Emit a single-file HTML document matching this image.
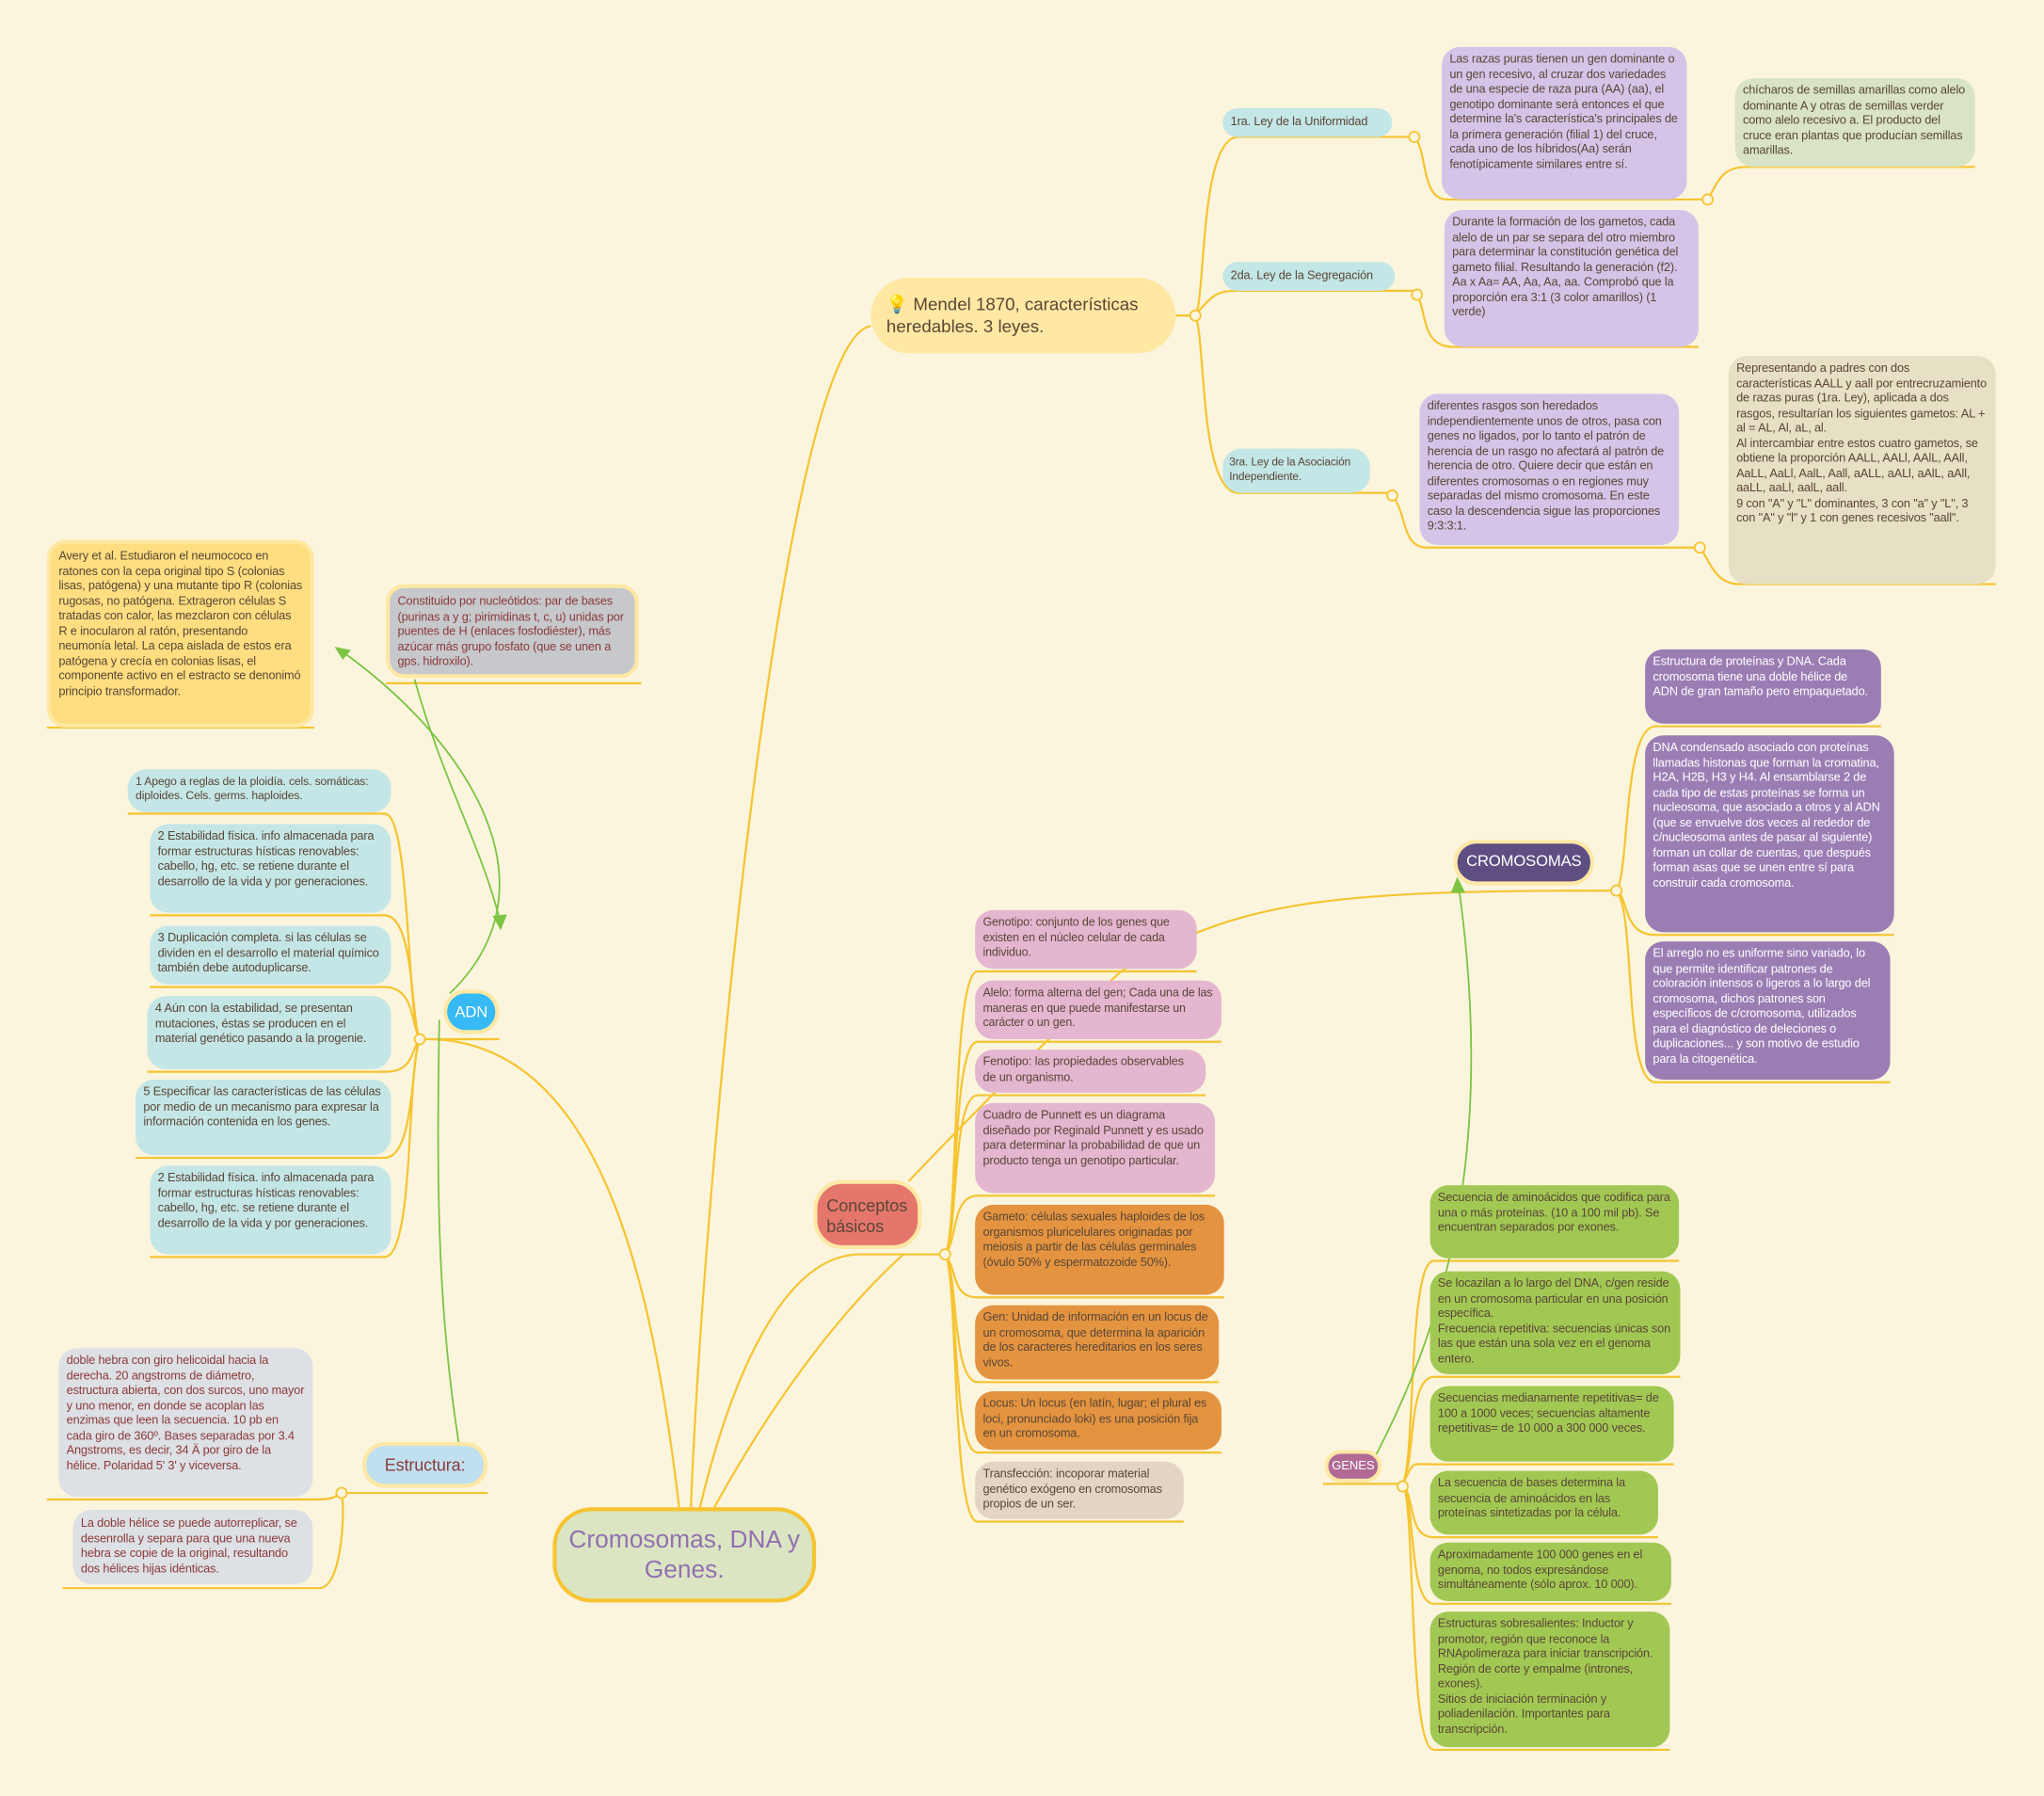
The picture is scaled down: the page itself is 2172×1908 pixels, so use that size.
<!DOCTYPE html>
<html><head><meta charset="utf-8"><style>
html,body{margin:0;padding:0;background:#fcf5de;}
body{width:2172px;height:1908px;overflow:hidden;}
#w{position:absolute;left:0;top:0;width:1568px;height:1377px;transform:scale(1.38520);transform-origin:0 0;}
.b{position:absolute;box-sizing:border-box;border-radius:14px;padding:4px 6px;font-family:"Liberation Sans",sans-serif;font-size:9.2px;line-height:11.5px;letter-spacing:-0.1px;color:#5a4636;overflow:hidden;}
svg{position:absolute;left:0;top:0;}
</style></head><body><div id="w">
<svg width="1568" height="1377" viewBox="0 0 1568 1377" fill="none" stroke="#f5c431" stroke-width="1.6">
<path d="M521 1156 C500 980 460 800 330 797"/>
<path d="M530 1156 C540 900 600 260 668 250"/>
<path d="M537 1156 C560 1060 600 962 660 962 L725 962"/>
<path d="M548 1156 C590 1080 640 1010 693 962"/>
<path d="M697 906 C760 840 800 800 860 745 C950 690 1020 683 1240 683"/>
<path d="M902 242 L917 242"/>
<path d="M917 242 C925 230 920 105 950 105 L1085 105"/>
<path d="M917 242 C930 225 935 223 950 223 L1087 223"/>
<path d="M917 242 C925 260 920 378 950 378 L1068 378"/>
<path d="M1085 105 C1095 115 1090 153 1110 153 L1310 153"/>
<path d="M1310 153 C1318 140 1320 128 1340 128 L1515 128"/>
<path d="M1087 226 C1095 240 1090 266 1115 266 L1303 266"/>
<path d="M1068 380 C1080 395 1075 420 1095 420 L1304 420"/>
<path d="M1304 420 C1312 430 1315 448 1335 448 L1531 448"/>
<path d="M1240 683 C1250 670 1245 557 1270 557 L1443 557"/>
<path d="M1240 683 C1250 690 1245 717 1270 717 L1453 717"/>
<path d="M1240 683 C1255 700 1245 830 1270 830 L1450 830"/>
<path d="M322 797 L383 797"/>
<path d="M322 797 C312 780 315 624 295 624 L98 624"/>
<path d="M322 797 C315 780 318 702 295 702 L115 702"/>
<path d="M322 797 C315 785 318 757 295 757 L115 757"/>
<path d="M322 797 C315 805 318 822 295 822 L113 822"/>
<path d="M322 797 C315 815 318 888 295 888 L104 888"/>
<path d="M322 797 C312 820 318 964 295 964 L115 964"/>
<path d="M725 962 C735 950 730 745 750 745 L918 745"/>
<path d="M725 962 C735 950 730 799 750 799 L937 799"/>
<path d="M725 962 C735 950 730 840 750 840 L925 840"/>
<path d="M725 962 C735 950 730 917 750 917 L932 917"/>
<path d="M725 962 C735 975 730 995 750 995 L939 995"/>
<path d="M725 962 C735 975 730 1060 750 1060 L935 1060"/>
<path d="M725 962 C735 975 730 1114 750 1114 L937 1114"/>
<path d="M725 962 C735 975 730 1167 750 1167 L908 1167"/>
<path d="M1015 1138 L1076 1138"/>
<path d="M1076 1138 C1086 1120 1080 967 1100 967 L1288 967"/>
<path d="M1076 1138 C1086 1120 1080 1056 1100 1056 L1289 1056"/>
<path d="M1076 1138 C1086 1120 1080 1123 1100 1123 L1284 1123"/>
<path d="M1076 1138 C1086 1150 1080 1179 1100 1179 L1272 1179"/>
<path d="M1076 1138 C1086 1150 1080 1230 1100 1230 L1282 1230"/>
<path d="M1076 1138 C1086 1150 1080 1342 1100 1342 L1281 1342"/>
<path d="M262 1145 L374 1145"/>
<path d="M262 1145 C255 1150 250 1150 240 1150 L36 1150"/>
<path d="M262 1145 C265 1160 262 1218 245 1218 L48 1218"/>
<path d="M36 558 L241 558"/><path d="M296 524 L492 524"/>
<g fill="#fcf5de" stroke-width="1.3">
<circle cx="917" cy="242" r="4"/><circle cx="1085" cy="105" r="4"/><circle cx="1087" cy="226" r="4"/><circle cx="1068" cy="380" r="4"/>
<circle cx="1310" cy="153" r="4"/><circle cx="1304" cy="420" r="4"/><circle cx="1240" cy="683" r="4"/><circle cx="322" cy="797" r="4"/>
<circle cx="725" cy="962" r="4"/><circle cx="1076" cy="1140" r="4"/><circle cx="262" cy="1145" r="4"/>
</g>
</svg>
<svg width="1568" height="1377" viewBox="0 0 1568 1377" fill="none" stroke="#7cc443" stroke-width="1.3">
<path d="M318 521 C340 600 370 650 384 708"/>
<path d="M379 703 L384 712 L388 702 Z" fill="#7cc443"/>
<path d="M345 762 C430 680 360 570 263 500"/>
<path d="M258 497 L268 499 L263 505 Z" fill="#7cc443"/>
<path d="M352 1107 C335 1000 335 900 337 782"/>
<path d="M1055 1117 C1100 1030 1150 900 1119 680"/>
<path d="M1114 684 L1118 674 L1123 684 Z" fill="#7cc443"/>
</svg>

<div class="b" style="left:668px;top:213px;width:234px;height:58px;background:#fee8a3;border-radius:29px;font-size:13.5px;line-height:17px;padding:12px 12px;letter-spacing:0">💡 Mendel 1870, características heredables. 3 leyes.</div>
<div class="b" style="left:938px;top:83px;width:130px;height:22px;background:#c3e6e6;border-radius:11px;padding:5px 6px">1ra. Ley de la Uniformidad</div>
<div class="b" style="left:938px;top:201px;width:132px;height:22px;background:#c3e6e6;border-radius:11px;padding:5px 6px">2da. Ley de la Segregación</div>
<div class="b" style="left:938px;top:344px;width:113px;height:34px;background:#c3e6e6;border-radius:14px;padding:5px 5px;font-size:8.6px;line-height:11px">3ra. Ley de la Asociación Independiente.</div>
<div class="b" style="left:1106px;top:36px;width:188px;height:117px;background:#d4c4e8">Las razas puras tienen un gen dominante o un gen recesivo, al cruzar dos variedades de una especie de raza pura (AA) (aa), el genotipo dominante será entonces el que determine la's característica's principales de la primera generación (filial 1) del cruce, cada uno de los híbridos(Aa) serán fenotípicamente similares entre sí.</div>
<div class="b" style="left:1331px;top:60px;width:184px;height:68px;background:#d9e4c6">chícharos de semillas amarillas como alelo dominante A y otras de semillas verder como alelo recesivo a. El producto del cruce eran plantas que producían semillas amarillas.</div>
<div class="b" style="left:1108px;top:161px;width:195px;height:105px;background:#d4c4e8">Durante la formación de los gametos, cada alelo de un par se separa del otro miembro para determinar la constitución genética del gameto filial. Resultando la generación (f2). Aa x Aa= AA, Aa, Aa, aa. Comprobó que la proporción era 3:1 (3 color amarillos) (1 verde)</div>
<div class="b" style="left:1089px;top:302px;width:199px;height:116px;background:#d4c4e8">diferentes rasgos son heredados independientemente unos de otros, pasa con genes no ligados, por lo tanto el patrón de herencia de un rasgo no afectará al patrón de herencia de otro. Quiere decir que están en diferentes cromosomas o en regiones muy separadas del mismo cromosoma. En este caso la descendencia sigue las proporciones 9:3:3:1.</div>
<div class="b" style="left:1326px;top:273px;width:205px;height:175px;background:#e6e0c4">Representando a padres con dos características AALL y aall por entrecruzamiento de razas puras (1ra. Ley), aplicada a dos rasgos, resultarían los siguientes gametos: AL + al = AL, Al, aL, al.<br>Al intercambiar entre estos cuatro gametos, se obtiene la proporción AALL, AALl, AAlL, AAll, AaLL, AaLl, AalL, Aall, aALL, aALl, aAlL, aAll, aaLL, aaLl, aalL, aall.<br>9 con "A" y "L" dominantes, 3 con "a" y "L", 3 con "A" y "l" y 1 con genes recesivos "aall".</div>

<div class="b" style="left:1115px;top:644px;width:108px;height:35px;background:#5e4e82;border:3px solid #fde8a6;border-radius:18px;color:#fff;font-size:12px;line-height:27px;text-align:center;padding:0">CROMOSOMAS</div>
<div class="b" style="left:1262px;top:498px;width:181px;height:57px;background:#9b7db4;color:#fff">Estructura de proteínas y DNA. Cada cromosoma tiene una doble hélice de ADN de gran tamaño pero empaquetado.</div>
<div class="b" style="left:1262px;top:564px;width:191px;height:151px;background:#9b7db4;color:#fff">DNA condensado asociado con proteínas llamadas histonas que forman la cromatina, H2A, H2B, H3 y H4. Al ensamblarse 2 de cada tipo de estas proteínas se forma un nucleosoma, que asociado a otros y al ADN (que se envuelve dos veces al rededor de c/nucleosoma antes de pasar al siguiente) forman un collar de cuentas, que después forman asas que se unen entre sí para construir cada cromosoma.</div>
<div class="b" style="left:1262px;top:722px;width:188px;height:106px;background:#9b7db4;color:#fff">El arreglo no es uniforme sino variado, lo que permite identificar patrones de coloración intensos o ligeros a lo largo del cromosoma, dichos patrones son específicos de c/cromosoma, utilizados para el diagnóstico de deleciones o duplicaciones... y son motivo de estudio para la citogenética.</div>

<div class="b" style="left:36px;top:414px;width:205px;height:144px;background:#fede80;border:3px solid #fee8a3">Avery et al. Estudiaron el neumococo en ratones con la cepa original tipo S (colonias lisas, patógena) y una mutante tipo R (colonias rugosas, no patógena. Extrageron células S tratadas con calor, las mezclaron con células R e inocularon al ratón, presentando neumonía letal. La cepa aislada de estos era patógena y crecía en colonias lisas, el componente activo en el estracto se denonimó principio transformador.</div>
<div class="b" style="left:296px;top:448px;width:194px;height:72px;background:#c6c8cc;border:3px solid #fee8a3;color:#8b3a3a;padding:5px 6px">Constituido por nucleótidos: par de bases (purinas a y g; pirimidinas t, c, u) unidas por puentes de H (enlaces fosfodiéster), más azúcar más grupo fosfato (que se unen a gps. hidroxilo).</div>
<div class="b" style="left:340px;top:759px;width:43px;height:34px;background:#36b9f5;border:3px solid #fde8a6;border-radius:17px;color:#fff;font-size:12px;line-height:28px;text-align:center;padding:0">ADN</div>
<div class="b" style="left:98px;top:590px;width:202px;height:33px;background:#c4e6e6;font-size:8.8px;line-height:11px">1 Apego a reglas de la ploidía. cels. somáticas: diploides. Cels. germs. haploides.</div>
<div class="b" style="left:115px;top:632px;width:185px;height:68px;background:#c4e6e6">2 Estabilidad física. info almacenada para formar estructuras hísticas renovables: cabello, hg, etc. se retiene durante el desarrollo de la vida y por generaciones.</div>
<div class="b" style="left:115px;top:710px;width:185px;height:45px;background:#c4e6e6">3 Duplicación completa. si las células se dividen en el desarrollo el material químico también debe autoduplicarse.</div>
<div class="b" style="left:113px;top:764px;width:187px;height:56px;background:#c4e6e6">4 Aún con la estabilidad, se presentan mutaciones, éstas se producen en el material genético pasando a la progenie.</div>
<div class="b" style="left:104px;top:828px;width:196px;height:58px;background:#c4e6e6">5 Especificar las características de las células por medio de un mecanismo para expresar la información contenida en los genes.</div>
<div class="b" style="left:115px;top:894px;width:185px;height:68px;background:#c4e6e6">2 Estabilidad física. info almacenada para formar estructuras hísticas renovables: cabello, hg, etc. se retiene durante el desarrollo de la vida y por generaciones.</div>

<div class="b" style="left:278px;top:1106px;width:96px;height:35px;background:#c0e0f0;border:3px solid #fde8a6;border-radius:17px;color:#8b3a3a;font-size:13px;line-height:29px;text-align:center;padding:0">Estructura:</div>
<div class="b" style="left:45px;top:1034px;width:195px;height:114px;background:#dde0e4;color:#8b3a3a">doble hebra con giro helicoidal hacia la derecha. 20 angstroms de diámetro, estructura abierta, con dos surcos, uno mayor y uno menor, en donde se acoplan las enzimas que leen la secuencia. 10 pb en cada giro de 360º. Bases separadas por 3.4 Angstroms, es decir, 34 Ä por giro de la hélice. Polaridad 5' 3' y viceversa.</div>
<div class="b" style="left:56px;top:1158px;width:184px;height:57px;background:#dde0e4;color:#8b3a3a;padding:5px 6px">La doble hélice se puede autorreplicar, se desenrolla y separa para que una nueva hebra se copie de la original, resultando dos hélices hijas idénticas.</div>

<div class="b" style="left:424px;top:1156px;width:202px;height:73px;background:#dbe5c3;border:3px solid #f5c431;border-radius:30px;color:#9270b0;font-size:19px;line-height:23px;text-align:center;padding:11px 6px;letter-spacing:0">Cromosomas, DNA y Genes.</div>
<div class="b" style="left:624px;top:905px;width:83px;height:53px;background:#e4766c;border:3px solid #fde8a6;border-radius:22px;font-size:13px;line-height:16px;padding:9px 7px;letter-spacing:0">Conceptos básicos</div>
<div class="b" style="left:748px;top:698px;width:170px;height:45px;background:#e4b6d0;font-size:9px">Genotipo: conjunto de los genes que existen en el núcleo celular de cada individuo.</div>
<div class="b" style="left:748px;top:752px;width:189px;height:45px;background:#e4b6d0;font-size:9px">Alelo: forma alterna del gen; Cada una de las maneras en que puede manifestarse un carácter o un gen.</div>
<div class="b" style="left:748px;top:805px;width:177px;height:33px;background:#e4b6d0">Fenotipo: las propiedades observables de un organismo.</div>
<div class="b" style="left:748px;top:846px;width:184px;height:69px;background:#e4b6d0">Cuadro de Punnett es un diagrama diseñado por Reginald Punnett y es usado para determinar la probabilidad de que un producto tenga un genotipo particular.</div>
<div class="b" style="left:748px;top:924px;width:191px;height:69px;background:#e49440">Gameto: células sexuales haploides de los organismos pluricelulares originadas por meiosis a partir de las células germinales (óvulo 50% y espermatozoide 50%).</div>
<div class="b" style="left:748px;top:1001px;width:187px;height:57px;background:#e49440">Gen: Unidad de información en un locus de un cromosoma, que determina la aparición de los caracteres hereditarios en los seres vivos.</div>
<div class="b" style="left:748px;top:1067px;width:189px;height:45px;background:#e49440">Locus: Un locus (en latín, lugar; el plural es loci, pronunciado loki) es una posición fija en un cromosoma.</div>
<div class="b" style="left:748px;top:1121px;width:160px;height:44px;background:#e4d4c4">Transfección: incoporar material genético exógeno en cromosomas propios de un ser.</div>

<div class="b" style="left:1016px;top:1112px;width:44px;height:25px;background:#b06a94;border:3px solid #fde8a6;border-radius:13px;color:#fff;font-size:9.5px;line-height:19px;text-align:center;padding:0">GENES</div>
<div class="b" style="left:1097px;top:909px;width:191px;height:56px;background:#a2c854">Secuencia de aminoácidos que codifica para una o más proteínas. (10 a 100 mil pb). Se encuentran separados por exones.</div>
<div class="b" style="left:1097px;top:975px;width:192px;height:79px;background:#a2c854">Se locazilan a lo largo del DNA, c/gen reside en un cromosoma particular en una posición específica.<br>Frecuencia repetitiva: secuencias únicas son las que están una sola vez en el genoma entero.</div>
<div class="b" style="left:1097px;top:1063px;width:187px;height:58px;background:#a2c854">Secuencias medianamente repetitivas= de 100 a 1000 veces; secuencias altamente repetitivas= de 10 000 a 300 000 veces.</div>
<div class="b" style="left:1097px;top:1128px;width:175px;height:49px;background:#a2c854">La secuencia de bases determina la secuencia de aminoácidos en las proteínas sintetizadas por la célula.</div>
<div class="b" style="left:1097px;top:1183px;width:185px;height:45px;background:#a2c854">Aproximadamente 100 000 genes en el genoma, no todos expresándose simultáneamente (sólo aprox. 10 000).</div>
<div class="b" style="left:1097px;top:1236px;width:184px;height:104px;background:#a2c854">Estructuras sobresalientes: Inductor y promotor, región que reconoce la RNApolimeraza para iniciar transcripción. Región de corte y empalme (intrones, exones).<br>Sitios de iniciación terminación y poliadenilación. Importantes para transcripción.</div>
</div></body></html>
